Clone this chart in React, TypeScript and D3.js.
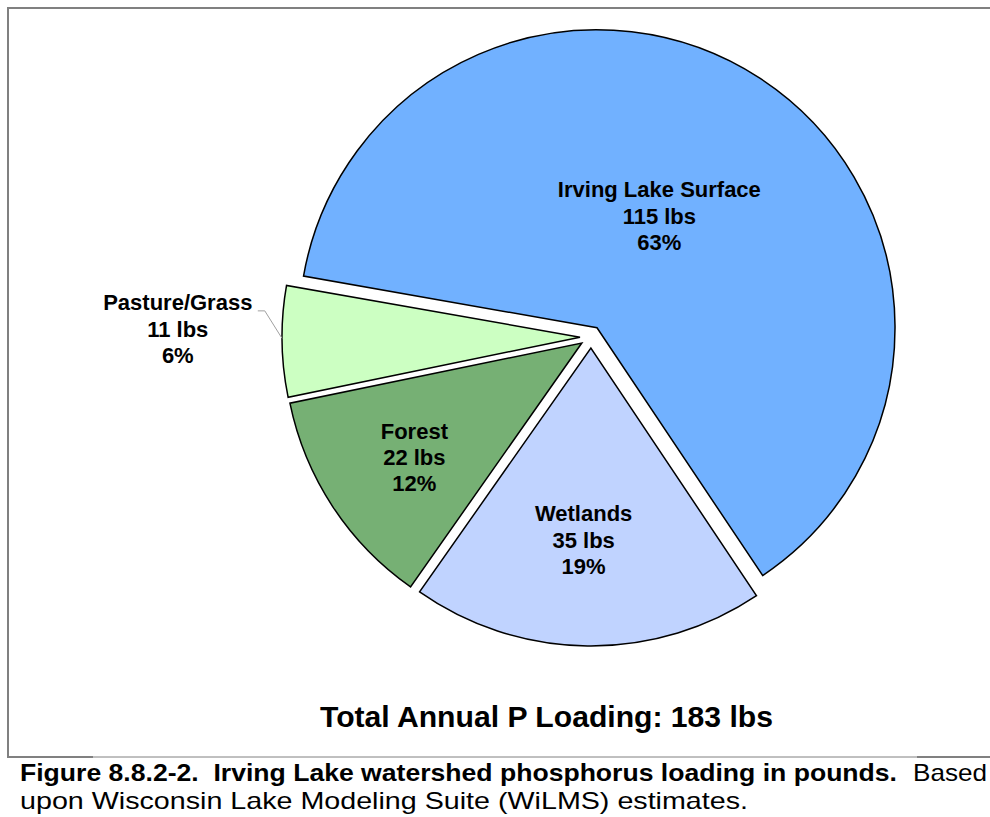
import React from "react";
import * as d3 from "d3";

const categories = ["Irving Lake Surface", "Wetlands", "Forest", "Pasture/Grass"];
const pounds = [115, 35, 22, 11];
const percents = ["63%", "19%", "12%", "6%"];
const colors = ["#71B1FF", "#C0D3FF", "#76B074", "#CCFFC2"];
const totalLabel = "Total Annual P Loading: 183 lbs";
const captionBold = "Figure 8.8.2-2.  Irving Lake watershed phosphorus loading in pounds.";
const captionNormal1 = "Based";
const captionLine2 = "upon Wisconsin Lake Modeling Suite (WiLMS) estimates.";

// layout (styles, not data)
const labelFrac = [0.43, 0.645, 0.68, 1.35];
const labelAngleShift = [-4, 1.5, -1, 2];
const W = 990;
const H = 817;
const cx = 591;
const cy = 337;
const R = 298;
const explode = 11;
const FONT = "'Liberation Sans', Arial, Helvetica, sans-serif";

export default function App() {
  const rad = (d: number) => (d * Math.PI) / 180;
  const pie = d3
    .pie<number>()
    .sort(null)
    .startAngle(rad(-80))
    .endAngle(rad(280))
    .value((d) => d);
  const arcs = pie(pounds);
  const arc = d3.arc<d3.PieArcDatum<number>>().innerRadius(0).outerRadius(R);

  const lineH = 26.4;

  return (
    <svg
      width={W}
      height={H}
      style={{ position: "absolute", left: 0, top: 0, background: "#fff" }}
      fontFamily={FONT}
    >
      {/* frame */}
      <path d={`M8,757 L8,8 L${W},8`} fill="none" stroke="#808080" strokeWidth={2} />
      <line x1={8} x2={W} y1={757} y2={757} stroke="#808080" strokeWidth={1} />
      <line x1={7} x2={93} y1={757} y2={757} stroke="#808080" strokeWidth={2} />
      <line x1={917} x2={W} y1={757} y2={757} stroke="#808080" strokeWidth={2} />

      {arcs.map((a, i) => {
        const mid = (a.startAngle + a.endAngle) / 2;
        const ox = cx + explode * Math.sin(mid);
        const oy = cy - explode * Math.cos(mid);
        const la = mid + rad(labelAngleShift[i]);
        const lr = R * labelFrac[i];
        const lx = ox + lr * Math.sin(la);
        const ly = oy - lr * Math.cos(la);
        const lines = [categories[i], `${pounds[i]} lbs`, percents[i]];
        const outside = labelFrac[i] > 1;
        const ax = ox + R * Math.sin(mid + rad(0.6));
        const ay = oy - R * Math.cos(mid + rad(0.6));
        return (
          <g key={categories[i]}>
            <path
              d={arc(a) || ""}
              transform={`translate(${ox},${oy})`}
              fill={colors[i]}
              stroke="#000"
              strokeWidth={1.5}
              strokeLinejoin="miter"
            />
            {outside && (
              <polyline
                points={`${ax},${ay} ${lx + 87},${ly - 18} ${lx + 80},${ly - 18}`}
                fill="none"
                stroke="#A0A0A0"
                strokeWidth={1}
              />
            )}
            <text x={lx} y={ly} textAnchor="middle" fontWeight="bold" fontSize={22} fill="#000">
              {lines.map((t, j) => (
                <tspan key={j} x={lx} y={ly + (j - 1) * lineH + 7.8}>
                  {t}
                </tspan>
              ))}
            </text>
          </g>
        );
      })}

      <text
        x={320}
        y={727}
        fontWeight="bold"
        fontSize={29}
        fill="#000"
        textLength={453}
        lengthAdjust="spacingAndGlyphs"
      >
        {totalLabel}
      </text>

      <text
        x={20}
        y={781}
        fontSize={24}
        fontWeight="bold"
        fill="#000"
        textLength={877}
        lengthAdjust="spacingAndGlyphs"
        style={{ whiteSpace: "pre" }}
      >
        {captionBold}
      </text>
      <text x={913} y={781} fontSize={24} fill="#000" textLength={74} lengthAdjust="spacingAndGlyphs">
        {captionNormal1}
      </text>
      <text x={20} y={809} fontSize={24} fill="#000" textLength={728} lengthAdjust="spacingAndGlyphs">
        {captionLine2}
      </text>
    </svg>
  );
}
